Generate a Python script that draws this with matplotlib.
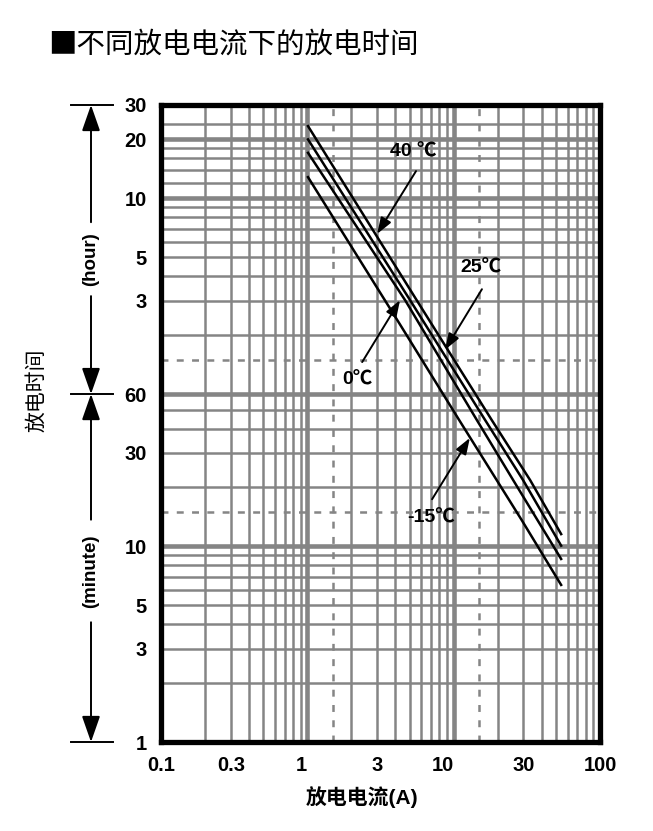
import matplotlib
matplotlib.use('Agg')
import matplotlib.pyplot as plt
import numpy as np
from matplotlib import transforms
from matplotlib.ticker import NullLocator

plt.rcParams['font.family'] = ['Liberation Sans', 'Noto Sans CJK SC', 'DejaVu Sans']
plt.rcParams['lines.scale_dashes'] = False

# ---------------- data (discharge current in A, discharge time in minutes) ----------------
current_40 = [1.0, 5.59, 18.2, 33.3, 54.8]
time_40 = [1422, 181, 44.2, 21.8, 11.4]
current_25 = [1.0, 5.04, 16.4, 29.8, 54.8]
time_25 = [1216, 181, 44.2, 21.8, 9.95]
current_0 = [1.0, 4.66, 14.4, 25.5, 54.8]
time_0 = [1038, 181, 44.2, 21.8, 8.51]
current_m15 = [1.0, 4.3, 10.9, 29.2, 54.8]
time_m15 = [780, 136, 44.2, 13.6, 6.27]

series = [(current_40, time_40), (current_25, time_25), (current_0, time_0), (current_m15, time_m15)]

# labels: text, text position (A, min), arrow start (A, min), arrow tip (A, min)
label_texts = ['40 ℃', '25℃', '0℃', '-15℃']
label_pos = [(5.28, 1035), (15.4, 264), (2.19, 70.8), (7.01, 13.95)]
arrow_start = [(5.53, 827), (15.6, 206), (2.37, 87.4), (7.12, 17.4)]
arrow_tip = [(3.0, 395), (8.73, 101), (4.30, 181), (12.9, 35.8)]

x_ticks = [0.1, 0.3, 1, 3, 10, 30, 100]
x_ticklabels = ['0.1', '0.3', '1', '3', '10', '30', '100']
y_ticks = [1, 3, 5, 10, 30, 60, 180, 300, 600, 1200, 1800]
y_ticklabels = ['1', '3', '5', '10', '30', '60', '3', '5', '10', '20', '30']

# grid positions
x_grid_thin = [0.2, 0.3, 0.4, 0.5, 0.6, 0.7, 0.8, 0.9, 2, 3, 4, 5, 6, 7, 8, 9,
               20, 30, 40, 50, 60, 70, 80, 90]
x_grid_thick = [1, 10]
x_grid_dash = [1.5, 15]
y_grid_thin = [2, 3, 4, 5, 6, 7, 8, 9, 20, 30, 40, 50,
               120, 180, 240, 300, 360, 420, 480, 540, 720, 840, 960, 1080, 1440]
y_grid_thick = [10, 60, 600, 1200]
y_grid_dash = [15, 90]

# ---------------- figure ----------------
W, H = 653, 831
fig = plt.figure(figsize=(W / 100, H / 100), dpi=100)
ax = fig.add_axes([161 / W, 1 - 742 / H, (600 - 161) / W, (742 - 105) / H])
ax.set_xscale('log')
ax.set_yscale('log')
ax.set_xlim(0.1, 100)
ax.set_ylim(1, 1800)

grid_col = '#858585'
for x in x_grid_thin:
    ax.axvline(x, color=grid_col, lw=1.8, zorder=1)
for x in x_grid_thick:
    ax.axvline(x, color=grid_col, lw=3.3, zorder=1)
for x in x_grid_dash:
    ax.axvline(x, color=grid_col, lw=1.8, zorder=1, linestyle=(0, (5, 6)))
for y in y_grid_thin:
    ax.axhline(y, color=grid_col, lw=1.8, zorder=1)
for y in y_grid_thick:
    ax.axhline(y, color=grid_col, lw=3.3, zorder=1)
for y in y_grid_dash:
    ax.axhline(y, color=grid_col, lw=1.8, zorder=1, linestyle=(0, (5, 6)))

for cx, ty in series:
    ax.plot(cx, ty, color='black', lw=1.8, zorder=3, solid_capstyle='butt')

for txt, tp, st, tip in zip(label_texts, label_pos, arrow_start, arrow_tip):
    ax.text(tp[0], tp[1], txt, ha='center', va='center', fontsize=14,
            fontweight='bold', zorder=5)
    ax.annotate('', xy=tip, xytext=st,
                arrowprops=dict(arrowstyle='-|>,head_length=0.7,head_width=0.25',
                                color='black', lw=1.4, shrinkA=0, shrinkB=0,
                                mutation_scale=14), zorder=5)

for s in ax.spines.values():
    s.set_linewidth(3.8)
    s.set_color('black')
    s.set_zorder(4)

ax.set_xticks(x_ticks)
ax.set_xticklabels(x_ticklabels)
ax.set_yticks(y_ticks)
ax.set_yticklabels(y_ticklabels)
ax.xaxis.set_minor_locator(NullLocator())
ax.yaxis.set_minor_locator(NullLocator())
ax.tick_params(axis='both', length=0, labelsize=14.5)
ax.tick_params(axis='x', pad=10)
ax.tick_params(axis='y', pad=10)
for lab in ax.get_xticklabels() + ax.get_yticklabels():
    lab.set_fontweight('bold')

# small horizontal shifts of some x tick labels as in the reference
shifts = {'1': -6, '10': -11}
for lab in ax.get_xticklabels():
    dx = shifts.get(lab.get_text(), 0)
    if dx:
        lab.set_transform(lab.get_transform() +
                          transforms.ScaledTranslation(dx / 100, 0, fig.dpi_scale_trans))

# ---------------- left side hour/minute annotation ----------------
tr = transforms.blended_transform_factory(fig.transFigure, ax.transAxes)
xl = 91 / W
lo, hi = np.log10(ax.get_ylim())
frac60 = (np.log10(60) - lo) / (hi - lo)
for yb in [1.0, frac60, 0.0]:
    ax.plot([71 / W, 113 / W], [yb, yb], transform=tr, color='black', lw=1.4,
            clip_on=False)
arrow_kw = dict(arrowstyle='-|>,head_length=0.8,head_width=0.28', color='black',
                lw=1.4, shrinkA=0, shrinkB=0, mutation_scale=20)
for tip_y, start_y in [(1.0, 0.816), (frac60, 0.700), (frac60, 0.349), (0.0, 0.188)]:
    ax.annotate('', xy=(xl, tip_y), xycoords=tr, xytext=(xl, start_y), textcoords=tr,
                arrowprops=arrow_kw, annotation_clip=False)
ax.text(xl, 0.758, '(hour)', transform=tr, rotation=90, ha='center', va='center',
        fontsize=13.5, fontweight='bold')
ax.text(xl, 0.268, '(minute)', transform=tr, rotation=90, ha='center', va='center',
        fontsize=13.5, fontweight='bold')

fig.text(36 / W, 1 - 390 / H, '放电时间', rotation=90, ha='center', va='center',
         fontsize=15, family=['Noto Sans CJK SC', 'DejaVu Sans'])
fig.text(362 / W, 1 - 797 / H, '放电电流(A)', ha='center', va='center',
         fontsize=15, fontweight='bold')
fig.text(48 / W, 1 - 45 / H, '■不同放电电流下的放电时间', ha='left', va='center',
         fontsize=20.5, family=['Noto Sans CJK SC', 'DejaVu Sans'])

fig.savefig('out.png', dpi=100, facecolor='white')
